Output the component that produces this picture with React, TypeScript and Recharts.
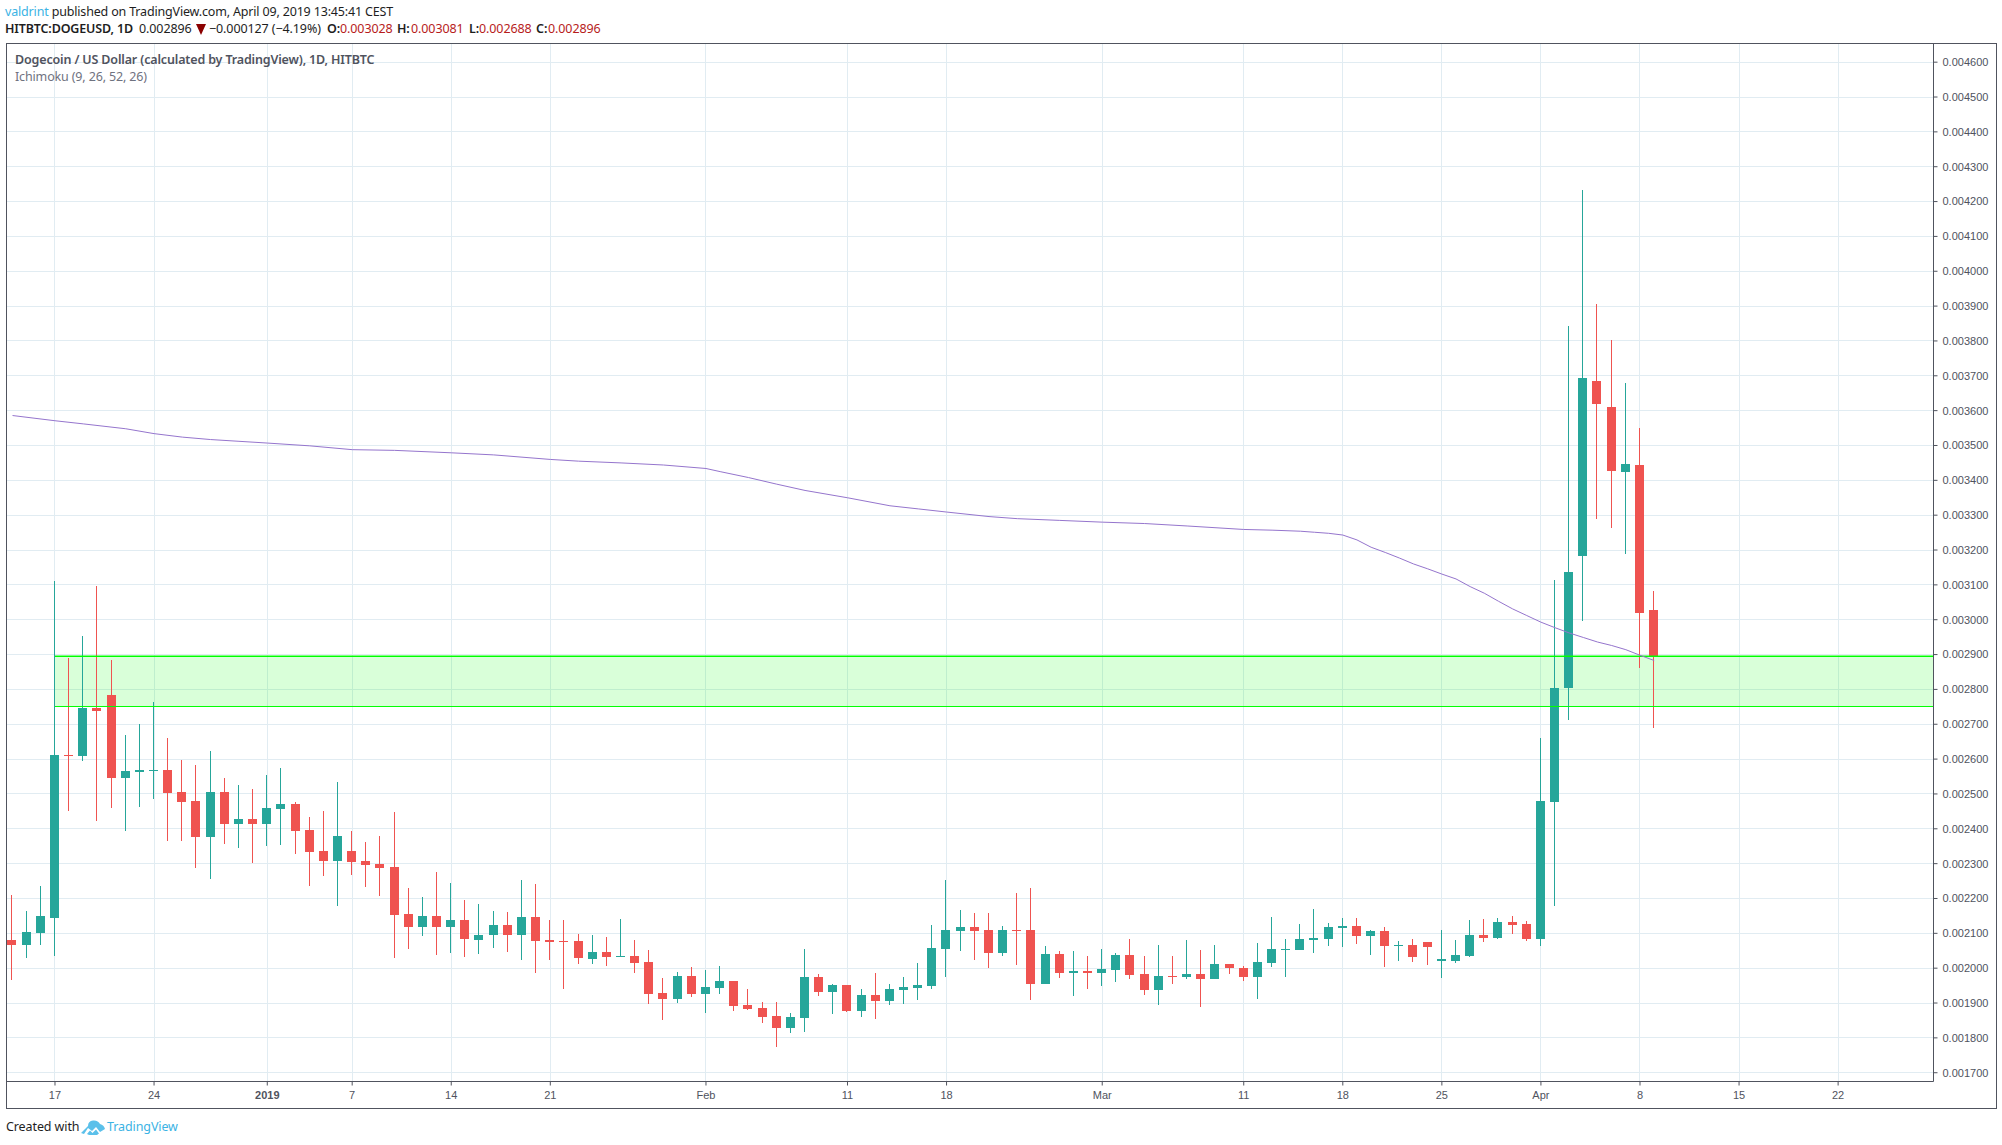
import { ComposedChart, Bar, Line, XAxis, YAxis, CartesianGrid, ReferenceArea, ReferenceLine } from "recharts";

// all prices are in millionths of a dollar, day 0 is Dec 14 2018
const opens = [
    2081, 2066, 2101, 2144, 2611, 2608, 2746, 2783, 2545, 2563, 2565, 2568, 2505, 2479, 2376, 2505, 2413, 2428, 2413, 2456,
    2471, 2396, 2336, 2307, 2336, 2307, 2299, 2290, 2155, 2118, 2149, 2118, 2138, 2081, 2095, 2124, 2095, 2147, 2081, 2078,
    2078, 2026, 2046, 2032, 2035, 2018, 1929, 1911, 1977, 1926, 1943, 1963, 1894, 1886, 1863, 1828, 1857, 1975, 1932, 1952,
    1877, 1923, 1906, 1937, 1943, 1949, 2055, 2106, 2118, 2109, 2043, 2111, 2109, 1954, 2040, 1985, 1991, 1985, 1994, 2037,
    1982, 1936, 1977, 1974, 1982, 1968, 2011, 2000, 1974, 2014, 2051, 2051, 2080, 2083, 2114, 2120, 2091, 2106, 2063, 2066,
    2074, 2020, 2022, 2034, 2094, 2086, 2132, 2126, 2083, 2476, 2805, 3183, 3685, 3610, 3424, 3444, 3028,
];
const highs = [
    2210, 2164, 2236, 3110, 2890, 2953, 3096, 2884, 2669, 2700, 2763, 2660, 2597, 2583, 2623, 2545, 2525, 2514, 2554, 2574,
    2477, 2434, 2451, 2534, 2393, 2362, 2379, 2448, 2230, 2204, 2276, 2244, 2195, 2184, 2164, 2161, 2253, 2241, 2138, 2138,
    2098, 2095, 2089, 2141, 2081, 2052, 1972, 1989, 2003, 1995, 2006, 1963, 1940, 1903, 1903, 1871, 2055, 1983, 1954, 1952,
    1940, 1986, 1954, 1975, 2015, 2124, 2253, 2167, 2158, 2157, 2120, 2215, 2229, 2063, 2048, 2048, 2034, 2054, 2043, 2083,
    2034, 2066, 2034, 2080, 2051, 2066, 2011, 2005, 2071, 2146, 2083, 2126, 2169, 2129, 2143, 2143, 2111, 2117, 2077, 2083,
    2074, 2109, 2080, 2137, 2140, 2143, 2149, 2135, 2661, 3114, 3842, 4232, 3905, 3802, 3679, 3550, 3081,
];
const lows = [
    1967, 2029, 2066, 2035, 2451, 2594, 2422, 2459, 2393, 2462, 2485, 2365, 2365, 2287, 2256, 2356, 2345, 2301, 2350, 2353,
    2327, 2236, 2264, 2178, 2267, 2233, 2207, 2029, 2055, 2092, 2038, 2043, 2032, 2040, 2058, 2046, 2023, 1986, 2023, 1940,
    2012, 2012, 2006, 2032, 1986, 1897, 1851, 1900, 1917, 1871, 1926, 1877, 1880, 1843, 1774, 1814, 1817, 1920, 1868, 1874,
    1860, 1854, 1894, 1897, 1909, 1940, 1975, 2049, 2023, 2000, 2034, 2008, 1908, 1954, 1971, 1919, 1939, 1948, 1959, 1968,
    1922, 1893, 1956, 1968, 1888, 1968, 1982, 1962, 1911, 2002, 1974, 2051, 2043, 2063, 2060, 2068, 2037, 2002, 2020, 2017,
    2008, 1971, 2014, 2031, 2074, 2083, 2097, 2077, 2063, 2178, 2713, 2997, 3290, 3263, 3189, 2862, 2688,
];
const closes = [
    2066, 2104, 2149, 2611, 2608, 2746, 2738, 2545, 2565, 2568, 2568, 2502, 2477, 2376, 2505, 2413, 2428, 2413, 2459, 2471,
    2393, 2333, 2307, 2379, 2304, 2296, 2287, 2152, 2118, 2149, 2118, 2138, 2083, 2095, 2124, 2095, 2147, 2078, 2075, 2075,
    2029, 2046, 2032, 2035, 2015, 1926, 1911, 1977, 1926, 1946, 1963, 1891, 1883, 1860, 1828, 1860, 1975, 1932, 1952, 1877,
    1923, 1906, 1940, 1946, 1952, 2058, 2109, 2118, 2106, 2043, 2111, 2106, 1954, 2040, 1985, 1991, 1985, 1997, 2037, 1979,
    1936, 1977, 1974, 1982, 1968, 2011, 2000, 1974, 2017, 2054, 2054, 2083, 2086, 2117, 2120, 2091, 2106, 2063, 2066, 2031,
    2060, 2025, 2037, 2094, 2086, 2132, 2124, 2083, 2479, 2805, 3137, 3693, 3619, 3427, 3447, 3020, 2896,
];

const cloudDays = [
    0, 3, 5, 8, 10, 12, 14, 16, 18, 21, 24, 27, 31, 34, 38, 40, 43, 46, 49, 50, 52, 54, 56, 59, 62, 64, 66, 69, 71, 74, 77,
    80, 83, 87, 89, 91, 92, 93, 94, 95, 96, 97, 98, 99, 100, 101, 102, 103, 104, 105, 106, 107, 108, 109, 110, 111, 112,
    113, 114, 115, 116,
];
const cloudValues = [
    3586, 3571, 3562, 3548, 3534, 3524, 3517, 3512, 3507, 3499, 3488, 3486, 3479, 3473, 3460, 3455, 3450, 3444, 3434, 3425,
    3408, 3389, 3371, 3350, 3327, 3318, 3309, 3296, 3290, 3285, 3280, 3276, 3269, 3259, 3257, 3254, 3251, 3248, 3243, 3229,
    3208, 3193, 3177, 3160, 3146, 3131, 3117, 3095, 3076, 3053, 3031, 3012, 2993, 2977, 2962, 2949, 2936, 2926, 2914, 2898,
    2883,
];

const priceTicks = [
    1700, 1800, 1900, 2000, 2100, 2200, 2300, 2400, 2500, 2600, 2700, 2800, 2900, 3000, 3100, 3200, 3300, 3400, 3500, 3600,
    3700, 3800, 3900, 4000, 4100, 4200, 4300, 4400, 4500, 4600,
];
const dayTicks = [3, 10, 18, 24, 31, 38, 49, 59, 66, 77, 87, 94, 101, 108, 115, 122, 129];
const dayLabels = ["17", "24", "2019", "7", "14", "21", "Feb", "11", "18", "Mar", "11", "18", "25", "Apr", "8", "15", "22"];

const zoneTop = 2895;
const zoneBottom = 2751;
const zoneStart = 3;
const minDay = -0.427;
const maxDay = 135.74;

const UP = "#26a69a";
const DOWN = "#ef5350";
const INK = "#50535e";
const GRID = "#e1ecf2";
const FONT = "'Noto Sans', sans-serif";
const AXIS_FONT = "'Liberation Sans', Arial, sans-serif";

const data = opens.map((open, i) => ({
    day: i,
    open,
    high: highs[i],
    low: lows[i],
    close: closes[i],
    range: [lows[i], highs[i]],
    cloud: cloudDays.includes(i) ? cloudValues[cloudDays.indexOf(i)] : null,
}));

const Candle = (props: any) => {
    const { x, y, width, height, payload } = props;
    const perUnit = height / (payload.high - payload.low);
    const top = y + (payload.high - Math.max(payload.open, payload.close)) * perUnit;
    const bottom = y + (payload.high - Math.min(payload.open, payload.close)) * perUnit;
    const color = payload.close >= payload.open ? UP : DOWN;
    const left = Math.round(x + width / 2 - 5.5);

    return (
        <g shapeRendering="crispEdges">
            <rect x={left + 4} y={y} width={1} height={height} fill={color} />
            <rect x={left} y={top} width={9} height={Math.max(bottom - top, 1)} fill={color} />
        </g>
    );
};

const DayTick = (props: any) => {
    const { x, y, payload } = props;
    const label = dayLabels[dayTicks.indexOf(payload.value)];

    return (
        <text
            x={x}
            y={y}
            dy={13}
            textAnchor="middle"
            fontSize={11}
            fontFamily={AXIS_FONT}
            fontWeight={label === "2019" ? 700 : 400}
            fill={INK}
        >
            {label}
        </text>
    );
};

const Logo = () => (
    <svg width={24} height={15} viewBox="0 0 24 15" style={{ position: "absolute", left: 81, top: 1120 }}>
        <path
            d="M0 13 L7 6 Q7 1 12 0.5 Q17 0 19 4 Q23 5 24 9 L19 12 L15 7 L11 11 L7 8 L3 14 Z M6 14 L9 10.5 L11.5 13 L15 9.5 L18 13.5 L16 15 L8 15 Z"
            fill="#5bc0ea"
        />
    </svg>
);

const DownArrow = () => (
    <svg width={10} height={11} viewBox="0 0 10 11" style={{ position: "absolute", left: 196, top: 24 }}>
        <path d="M0 0 H10 L5 11 Z" fill="#8b0000" />
    </svg>
);

const label = (left: number, top: number, style: any, children: any) => (
    <div style={{ position: "absolute", left, top, whiteSpace: "nowrap", fontFamily: FONT, lineHeight: "16px", ...style }}>
        {children}
    </div>
);

const App = () => {
    const line = { fontSize: 12.5, color: "#1e1e1e", letterSpacing: -0.1 };
    const bold = { ...line, fontWeight: 600 };
    const red = { ...line, color: "#b71c1c" };

    return (
        <div style={{ position: "absolute", left: 0, top: 0, width: 2002, height: 1145, background: "#fff", overflow: "hidden" }}>
            {label(5, 4, { ...line, letterSpacing: -0.17 }, <><span style={{ color: "#3bb3e4" }}>valdrint</span> published on TradingView.com, April 09, 2019 13:45:41 CEST</>)}

            {label(5, 21, { ...bold, letterSpacing: -0.15 }, "HITBTC:DOGEUSD, 1D")}
            {label(139, 21, line, "0.002896")}
            <DownArrow />
            {label(209, 21, line, "−0.000127 (−4.19%)")}
            {label(327, 21, bold, "O:")}
            {label(340, 21, red, "0.003028")}
            {label(397, 21, bold, "H:")}
            {label(411, 21, red, "0.003081")}
            {label(469, 21, bold, "L:")}
            {label(479, 21, red, "0.002688")}
            {label(536, 21, bold, "C:")}
            {label(548, 21, red, "0.002896")}

            <div style={{ position: "absolute", left: 0, top: 0 }}>
                <ComposedChart
                    width={2002}
                    height={1145}
                    data={data}
                    margin={{ top: 43.5, right: 6, bottom: 37, left: 6.5 }}
                >
                    <CartesianGrid stroke={GRID} strokeWidth={1} shapeRendering="crispEdges" />
                    <XAxis
                        type="number"
                        dataKey="day"
                        domain={[minDay, maxDay]}
                        ticks={dayTicks}
                        allowDataOverflow
                        height={26.5}
                        stroke={INK}
                        tickSize={4}
                        tickMargin={0}
                        tick={<DayTick />}
                        interval={0}
                    />
                    <YAxis
                        orientation="right"
                        type="number"
                        domain={[1674.8, 4653.6]}
                        ticks={priceTicks}
                        allowDataOverflow
                        width={62.5}
                        stroke={INK}
                        tickSize={4}
                        tickMargin={5}
                        interval={0}
                        tick={{ fontSize: 11, fill: INK, fontFamily: AXIS_FONT }}
                        tickFormatter={(v: number) => (v / 1e6).toFixed(6)}
                    />
                    <ReferenceArea
                        x1={zoneStart}
                        x2={maxDay}
                        y1={zoneBottom}
                        y2={zoneTop}
                        fill="#00ff00"
                        fillOpacity={0.15}
                        stroke="none"
                    />
                    <ReferenceLine segment={[{ x: zoneStart, y: zoneTop }, { x: maxDay, y: zoneTop }]} stroke="#00ff00" strokeWidth={1.5} />
                    <ReferenceLine segment={[{ x: zoneStart, y: zoneBottom }, { x: maxDay, y: zoneBottom }]} stroke="#00ff00" strokeWidth={1} />
                    <Bar dataKey="range" barSize={9} shape={<Candle />} isAnimationActive={false} />
                    <Line
                        dataKey="cloud"
                        stroke="#9575cd"
                        strokeWidth={1}
                        dot={false}
                        activeDot={false}
                        connectNulls
                        isAnimationActive={false}
                    />
                </ComposedChart>
            </div>

            <div style={{ position: "absolute", left: 6, top: 43, width: 1989, height: 1064, border: `1px solid ${INK}`, pointerEvents: "none" }} />

            {label(15, 52, { fontSize: 12.5, color: INK, fontWeight: 600, letterSpacing: -0.15 }, "Dogecoin / US Dollar (calculated by TradingView), 1D, HITBTC")}
            {label(15, 69, { fontSize: 12.5, color: "#6f7280", letterSpacing: -0.15 }, "Ichimoku (9, 26, 52, 26)")}

            {label(6, 1119, { fontSize: 12.5, color: "#1e1e1e", letterSpacing: -0.1 }, "Created with")}
            <Logo />
            {label(107, 1119, { fontSize: 12.5, color: "#3bb3e4", letterSpacing: -0.1 }, "TradingView")}
        </div>
    );
};

export default App;
